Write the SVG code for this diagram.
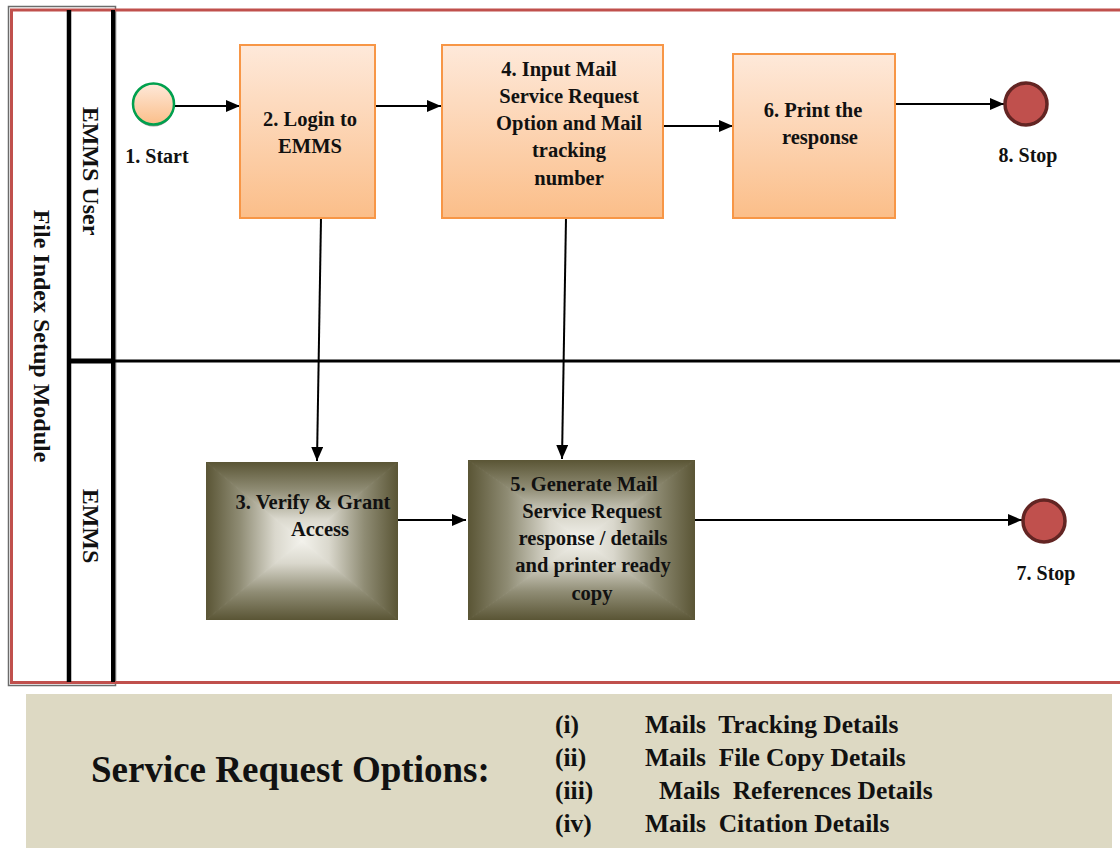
<svg xmlns="http://www.w3.org/2000/svg" width="1120" height="848" viewBox="0 0 1120 848" font-family="'Liberation Serif', 'DejaVu Serif', serif">
<defs>
<style>
text{font-family:'Liberation Serif','DejaVu Serif',serif;font-weight:700;fill:#111;}
.bt{font-size:20.5px;text-anchor:middle;}
.lbl{font-size:20px;text-anchor:middle;}
.lane{font-size:24px;text-anchor:middle;}
.opt{font-size:25.5px;white-space:pre;}
.proc{stroke:#F79646;stroke-width:2;fill:url(#orange);}
.stop{fill:#C0504D;stroke:#632523;stroke-width:3.5;}
.conn{stroke:#000;stroke-width:2;fill:none;marker-end:url(#arr);}
.t{fill:url(#gT);stroke:url(#gT);stroke-width:1;}
.b{fill:url(#gB);stroke:url(#gB);stroke-width:1;}
.l{fill:url(#gL);stroke:url(#gL);stroke-width:1;}
.r{fill:url(#gR);stroke:url(#gR);stroke-width:1;}
</style>
<linearGradient id="orange" x1="0" y1="0" x2="0" y2="1">
<stop offset="0" stop-color="#FEE9DA"/>
<stop offset="1" stop-color="#FBBE89"/>
</linearGradient>
<linearGradient id="gT" x1="0" y1="0" x2="0" y2="1">
<stop offset="0" stop-color="#5A5535"/><stop offset="0.35" stop-color="#8F8C74"/><stop offset="0.72" stop-color="#DAD8CD"/><stop offset="1" stop-color="#F3F2EC"/>
</linearGradient>
<linearGradient id="gB" x1="0" y1="1" x2="0" y2="0">
<stop offset="0" stop-color="#5A5535"/><stop offset="0.35" stop-color="#8F8C74"/><stop offset="0.72" stop-color="#DAD8CD"/><stop offset="1" stop-color="#F3F2EC"/>
</linearGradient>
<linearGradient id="gL" x1="0" y1="0" x2="1" y2="0">
<stop offset="0" stop-color="#5A5535"/><stop offset="0.35" stop-color="#8F8C74"/><stop offset="0.72" stop-color="#DAD8CD"/><stop offset="1" stop-color="#F3F2EC"/>
</linearGradient>
<linearGradient id="gR" x1="1" y1="0" x2="0" y2="0">
<stop offset="0" stop-color="#5A5535"/><stop offset="0.35" stop-color="#8F8C74"/><stop offset="0.72" stop-color="#DAD8CD"/><stop offset="1" stop-color="#F3F2EC"/>
</linearGradient>
<marker id="arr" viewBox="0 0 14 12" refX="14" refY="6" markerWidth="14" markerHeight="12" markerUnits="userSpaceOnUse" orient="auto">
<path d="M0,0 L14,6 L0,12 Z" fill="#000"/>
</marker>
<clipPath id="c3"><rect x="206" y="462" width="192" height="158"/></clipPath>
<clipPath id="c5"><rect x="468" y="460" width="227" height="160"/></clipPath>
</defs>
<rect width="1120" height="848" fill="#fff"/>

<g id="pool">
<rect x="8.5" y="6.5" width="107" height="679" fill="none" stroke="#6b6b6b" stroke-width="1.5"/>
<path d="M1122,10 L11.5,10 L11.5,682.5 L1122,682.5" fill="none" stroke="#C0504D" stroke-width="3"/>
<line x1="69" y1="10" x2="69" y2="682" stroke="#000" stroke-width="4.5"/>
<line x1="113" y1="10" x2="113" y2="682" stroke="#000" stroke-width="4"/>
<line x1="67" y1="361" x2="115" y2="361" stroke="#000" stroke-width="5"/>
<line x1="113" y1="361" x2="1120" y2="361" stroke="#000" stroke-width="3"/>
<text class="lane" transform="translate(34,336) rotate(90)">File Index Setup Module</text>
<text class="lane" transform="translate(83,171) rotate(90)">EMMS User</text>
<text class="lane" transform="translate(83,526) rotate(90)">EMMS</text>
</g>

<g id="connectors">
<line class="conn" x1="174" y1="106" x2="240" y2="106"/>
<line class="conn" x1="375" y1="106" x2="441" y2="106"/>
<line class="conn" x1="663" y1="126" x2="733" y2="126"/>
<line class="conn" x1="895" y1="104" x2="1004" y2="104"/>
<line class="conn" x1="321" y1="218" x2="317" y2="461"/>
<line class="conn" x1="566" y1="218" x2="562" y2="459"/>
<line class="conn" x1="398" y1="520" x2="466" y2="520"/>
<line class="conn" x1="695" y1="520" x2="1022" y2="520"/>
</g>

<g id="n1">
<circle cx="153.5" cy="106" r="20.5" fill="#9a9a9a"/>
<circle cx="153.5" cy="104" r="20.5" fill="url(#orange)" stroke="#00A04E" stroke-width="2.5"/>
<text class="lbl" x="157" y="163">1. Start</text>
</g>

<g id="n2">
<rect class="proc" x="240" y="45" width="135" height="173"/>
<text class="bt" x="310" y="126">2. Login to</text>
<text class="bt" x="310" y="153">EMMS</text>
</g>

<g id="n4">
<rect class="proc" x="442" y="45" width="221" height="173"/>
<text class="bt" x="559" y="76">4. Input Mail</text>
<text class="bt" x="569" y="103">Service Request</text>
<text class="bt" x="569" y="130">Option and Mail</text>
<text class="bt" x="569" y="157">tracking</text>
<text class="bt" x="569" y="185">number</text>
</g>

<g id="n6">
<rect class="proc" x="733" y="54" width="162" height="164"/>
<text class="bt" x="813" y="117">6. Print the</text>
<text class="bt" x="820" y="144">response</text>
</g>

<g id="n8">
<circle class="stop" cx="1026" cy="104" r="21"/>
<text class="lbl" x="1028" y="162">8. Stop</text>
</g>

<g id="n3">
<g clip-path="url(#c3)">
<polygon class="t" points="206,462 398,462 302,541"/>
<polygon class="b" points="206,620 398,620 302,541"/>
<polygon class="l" points="206,462 206,620 302,541"/>
<polygon class="r" points="398,462 398,620 302,541"/>
</g>
<text class="bt" x="313" y="509">3. Verify &amp; Grant</text>
<text class="bt" x="320" y="536">Access</text>
</g>

<g id="n5">
<g clip-path="url(#c5)">
<polygon class="t" points="468,460 695,460 581.5,540"/>
<polygon class="b" points="468,620 695,620 581.5,540"/>
<polygon class="l" points="468,460 468,620 581.5,540"/>
<polygon class="r" points="695,460 695,620 581.5,540"/>
</g>
<text class="bt" x="584" y="491">5. Generate Mail</text>
<text class="bt" x="592" y="518">Service Request</text>
<text class="bt" x="593" y="545">response / details</text>
<text class="bt" x="593" y="572">and printer ready</text>
<text class="bt" x="592" y="600">copy</text>
</g>

<g id="n7">
<circle class="stop" cx="1044" cy="521" r="21"/>
<text class="lbl" x="1046" y="580">7. Stop</text>
</g>

<g id="options">
<rect x="26" y="694" width="1086" height="154" fill="#DDD9C3"/>
<text x="91" y="782" style="font-size:37px">Service Request Options:</text>
<text class="opt" x="555" y="733">(i)</text>
<text class="opt" x="645" y="733">Mails  Tracking Details</text>
<text class="opt" x="555" y="766">(ii)</text>
<text class="opt" x="645" y="766">Mails  File Copy Details</text>
<text class="opt" x="555" y="799">(iii)</text>
<text class="opt" x="659" y="799">Mails  References Details</text>
<text class="opt" x="555" y="832">(iv)</text>
<text class="opt" x="645" y="832">Mails  Citation Details</text>
</g>
</svg>
